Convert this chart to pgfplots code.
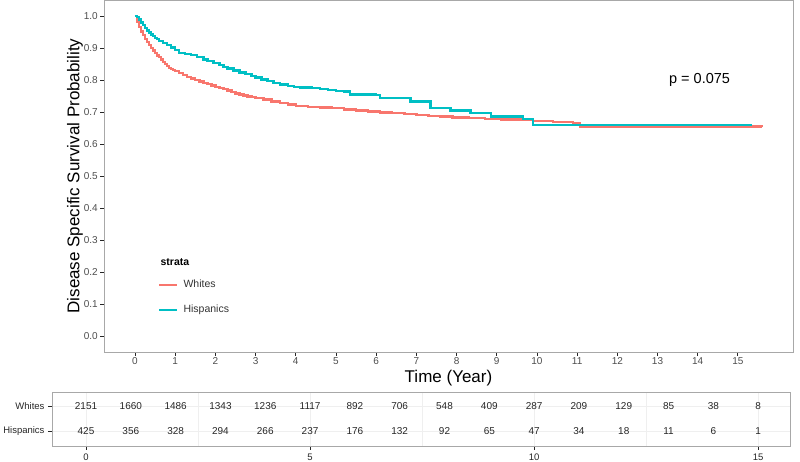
\documentclass[border=0pt]{standalone}
\usepackage{fontspec}
\setmainfont{Liberation Sans}
\usepackage{pgfplots}
\usepackage{pgfplotstable}
\pgfplotsset{compat=1.18}
\definecolor{wcol}{HTML}{F8766D}
\definecolor{hcol}{HTML}{00BFC4}
\definecolor{framec}{HTML}{A8A8A8}
\definecolor{tickc}{HTML}{4D4D4D}
\definecolor{gridc}{HTML}{EFEFEF}
\pgfplotstableread{
t lab
0 2151
1 1660
2 1486
3 1343
4 1236
5 1117
6 892
7 706
8 548
9 409
10 287
11 209
12 129
13 85
14 38
15 8
}\whitesrisk
\pgfplotstableread{
t lab
0 425
1 356
2 328
3 294
4 266
5 237
6 176
7 132
8 92
9 65
10 47
11 34
12 18
13 11
14 6
15 1
}\hisprisk
\begin{document}
\begin{tikzpicture}[x=1pt,y=1pt]
\path[use as bounding box] (0,0) rectangle (800,462);
\begin{axis}[
  at={(104pt,110pt)}, anchor=south west, scale only axis,
  width=689pt, height=352pt,
  xmin=-0.771, xmax=16.37, ymin=-0.05, ymax=1.05,
  axis line style={framec, line width=0.9pt},
  xtick={0,1,2,3,4,5,6,7,8,9,10,11,12,13,14,15},
  ytick={0,0.1,0.2,0.3,0.4,0.5,0.6,0.7,0.8,0.9,1.0},
  yticklabel style={inner sep=2pt, /pgf/number format/.cd, fixed, fixed zerofill, precision=1},
  /pgf/number format/assume math mode=true,
  tick label style={font=\fontsize{10}{11}\selectfont, text=tickc},
  xticklabel style={inner sep=1.5pt},
  xtick pos=bottom, ytick pos=left, tick align=outside,
  major tick length=4pt,
  tick style={black!85, line width=0.9pt},
  xlabel={Time (Year)}, ylabel={Disease Specific Survival Probability},
  label style={font=\fontsize{17}{18}\selectfont},
  xlabel style={at={(axis description cs:0.5,-0.075)}, anchor=center, inner sep=0pt},
  ylabel style={at={(axis description cs:-0.042,0.5)}, anchor=center},
  legend style={draw=none, fill=none, at={(axis description cs:0.078,0.21)}, anchor=north west,
    font=\fontsize{10.5}{12}\selectfont, text=black!80, row sep=12pt, inner sep=0pt,
    nodes={inner xsep=5pt}},
  legend cell align=left,
  legend image code/.code={\draw[#1, line width=2.6pt] (0pt,0pt) -- (18pt,0pt);},
  clip=false,
]
\addplot[const plot, wcol, line width=2.4pt] coordinates {
(0,1.0) (0.05,0.983) (0.1,0.966) (0.15,0.952) (0.2,0.94) (0.25,0.929) (0.3,0.918)
(0.35,0.909) (0.4,0.9) (0.45,0.892) (0.5,0.885) (0.55,0.877) (0.6,0.871) (0.65,0.864)
(0.7,0.857) (0.75,0.85) (0.8,0.843) (0.85,0.838) (0.9,0.834) (0.95,0.831) (1.0,0.828)
(1.1,0.822) (1.2,0.816) (1.3,0.81) (1.4,0.805) (1.5,0.8) (1.6,0.795) (1.7,0.791)
(1.8,0.787) (1.9,0.783) (2.0,0.779) (2.1,0.775) (2.2,0.771) (2.3,0.767) (2.4,0.762)
(2.5,0.758) (2.6,0.755) (2.7,0.752) (2.8,0.749) (2.9,0.746) (3.0,0.743) (3.2,0.739)
(3.4,0.733) (3.6,0.728) (3.8,0.723) (4.0,0.719) (4.3,0.716) (4.6,0.714) (4.9,0.712)
(5.2,0.708) (5.5,0.705) (5.8,0.701) (6.1,0.699) (6.4,0.697) (6.7,0.694) (7.0,0.691)
(7.3,0.688) (7.6,0.686) (7.9,0.683) (8.3,0.681) (8.7,0.679) (9.1,0.677) (9.5,0.676)
(9.9,0.671) (10.4,0.668) (10.9,0.666) (11.07,0.655) (15.6,0.654)
};
\addlegendentry{Whites}
\addplot[const plot, hcol, line width=2.4pt] coordinates {
(0,1.0) (0.05,0.996) (0.1,0.989) (0.15,0.98) (0.2,0.971) (0.25,0.963) (0.3,0.955)
(0.35,0.948) (0.4,0.942) (0.45,0.937) (0.5,0.932) (0.55,0.928) (0.6,0.922) (0.7,0.916)
(0.8,0.909) (0.9,0.902) (1.0,0.894) (1.1,0.885) (1.25,0.882) (1.4,0.878) (1.55,0.872)
(1.7,0.864) (1.8,0.86) (1.95,0.853) (2.1,0.846) (2.2,0.841) (2.3,0.836) (2.45,0.83)
(2.6,0.824) (2.75,0.818) (2.9,0.812) (3.0,0.808) (3.15,0.802) (3.3,0.796) (3.45,0.791)
(3.6,0.786) (3.8,0.782) (3.95,0.778) (4.1,0.777) (4.4,0.775) (4.6,0.772) (4.8,0.769)
(5.0,0.766) (5.2,0.764) (5.35,0.755) (6.0,0.753) (6.1,0.744) (6.6,0.743) (6.85,0.733)
(7.35,0.713) (7.85,0.705) (8.35,0.697) (8.85,0.686) (9.65,0.678) (9.9,0.660) (15.35,0.660)
};
\addlegendentry{Hispanics}
\node[anchor=west, font=\fontsize{10.5}{12}\selectfont\bfseries] at (axis description cs:0.077,0.256) {strata};
\node[anchor=west, font=\fontsize{14.5}{16}\selectfont] at (axis cs:13.2,0.80) {p = 0.075};
\end{axis}

\begin{axis}[
  at={(52pt,16pt)}, anchor=south west, scale only axis,
  width=738pt, height=54pt,
  xmin=-0.759, xmax=15.71, ymin=0, ymax=54,
  axis line style={framec, line width=0.9pt},
  xtick={0,5,10,15}, minor xtick={2.5,7.5,12.5},
  ytick={15,40}, yticklabels={Hispanics,Whites},
  /pgf/number format/assume math mode=true,
  tick label style={font=\fontsize{9.5}{10}\selectfont, text=black!85},
  xtick pos=bottom, ytick pos=left, tick align=outside,
  major tick length=4pt, minor tick length=0pt,
  tick style={black!85, line width=0.9pt},
  xmajorgrids, xminorgrids, ymajorgrids,
  major grid style={gridc, line width=0.6pt},
  minor grid style={gridc, line width=0.4pt},
  clip=false,
]
\addplot[draw=none, mark=none, nodes near coords, point meta=explicit symbolic,
  every node near coord/.style={anchor=center, font=\fontsize{10}{11}\selectfont, text=black!85}]
  table[x=t, y expr=40, meta=lab] {\whitesrisk};
\addplot[draw=none, mark=none, nodes near coords, point meta=explicit symbolic,
  every node near coord/.style={anchor=center, font=\fontsize{10}{11}\selectfont, text=black!85}]
  table[x=t, y expr=15, meta=lab] {\hisprisk};
\end{axis}
\end{tikzpicture}
\end{document}
